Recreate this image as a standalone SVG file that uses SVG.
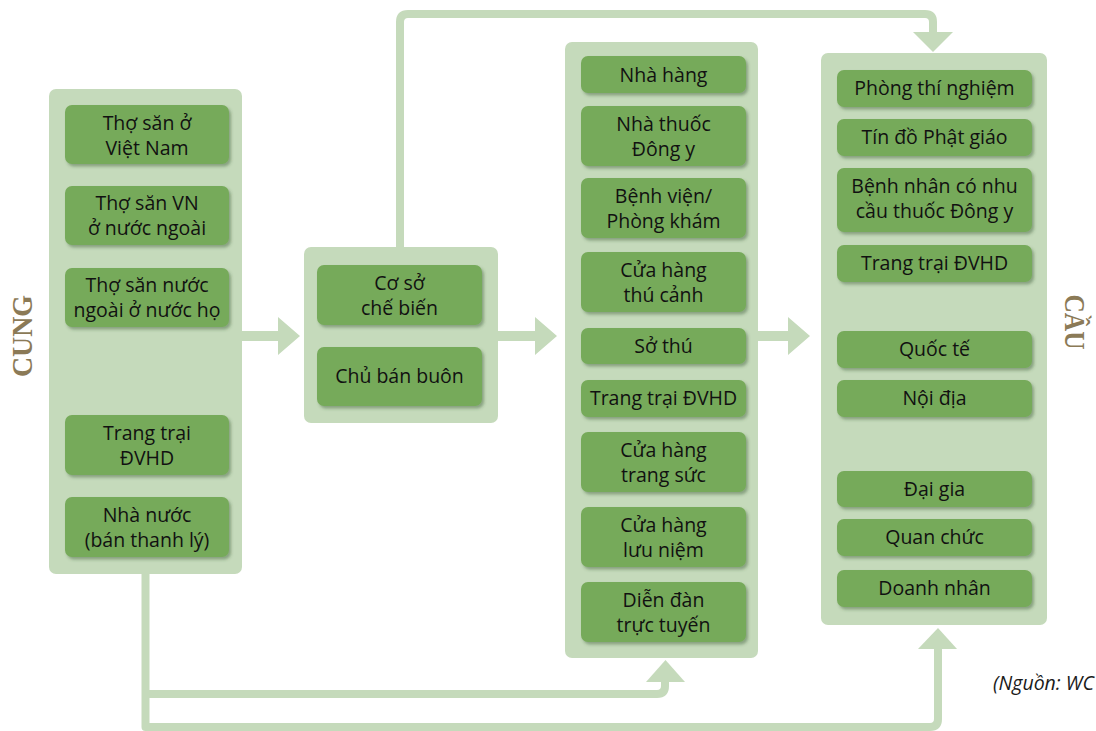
<svg xmlns="http://www.w3.org/2000/svg" width="1096" height="731" viewBox="0 0 1096 731">
<defs>
<filter id="sh" x="-10%" y="-20%" width="130%" height="150%">
<feDropShadow dx="2" dy="2.5" stdDeviation="1.8" flood-color="#3d5a30" flood-opacity="0.45"/>
</filter>
</defs>
<style>
.panel{fill:#c5dabb}
.node{fill:#76aa5a;filter:url(#sh)}
.t{font-family:"Open Sans","Noto Sans",sans-serif;font-size:19.5px;fill:#111111;text-anchor:middle}
.side{font-family:"Liberation Serif",serif;font-weight:bold;font-size:30px;fill:#8b7a57;text-anchor:middle}
.line{fill:none;stroke:#c5dabb;stroke-width:8;stroke-linejoin:round}
.ah{fill:#c5dabb}
.src{font-family:"Open Sans","Noto Sans",sans-serif;font-style:italic;font-size:19.5px;fill:#1a1a1a}
</style>
<rect width="1096" height="731" fill="#ffffff"/>

<g id="connectors">
<path class="line" d="M145.5,574 V727 H930 Q938,727 938,719 V645"/>
<polygon class="ah" points="918,649 957,649 938,628"/>
<path class="line" d="M145.5,694 H657 Q665,694 665,686 V678"/>
<polygon class="ah" points="646,682 685,682 665.5,660"/>
<path class="line" d="M400,247 V22 Q400,14 408,14 H925 Q933,14 933,22 V35"/>
<polygon class="ah" points="913,32 953,32 933,52"/>
<polygon class="ah" points="242,331 278,331 278,317 300,336 278,355 278,341 242,341"/>
<polygon class="ah" points="498,331 535,331 535,317 557,336 535,355 535,341 498,341"/>
<polygon class="ah" points="758,331 788,331 788,317 810,336 788,355 788,341 758,341"/>
</g>

<g id="label-cung"><text class="side" transform="translate(32,336) rotate(-90)" textLength="82" lengthAdjust="spacingAndGlyphs">CUNG</text></g>
<g id="label-cau"><text class="side" transform="translate(1065,322) rotate(90)" textLength="55" lengthAdjust="spacingAndGlyphs">CẦU</text></g>

<g id="panel-supply">
<rect class="panel" x="49" y="89" width="193" height="485" rx="7"/>
<g id="n-tho-san-vn"><rect class="node" x="65" y="105" width="164" height="59" rx="7"/><text class="t" x="147" y="130">Thợ săn ở</text><text class="t" x="147" y="155">Việt Nam</text></g>
<g id="n-tho-san-vn-nn"><rect class="node" x="65" y="186" width="164" height="59" rx="7"/><text class="t" x="147" y="210">Thợ săn VN</text><text class="t" x="147" y="235">ở nước ngoài</text></g>
<g id="n-tho-san-nn"><rect class="node" x="65" y="268" width="164" height="59" rx="7"/><text class="t" x="147" y="292">Thợ săn nước</text><text class="t" x="147" y="317">ngoài ở nước họ</text></g>
<g id="n-trang-trai-1"><rect class="node" x="65" y="415" width="164" height="60" rx="7"/><text class="t" x="147" y="440">Trang trại</text><text class="t" x="147" y="465">ĐVHD</text></g>
<g id="n-nha-nuoc"><rect class="node" x="65" y="497" width="164" height="60" rx="7"/><text class="t" x="147" y="522">Nhà nước</text><text class="t" x="147" y="547">(bán thanh lý)</text></g>
</g>

<g id="panel-middle">
<rect class="panel" x="304" y="247" width="194" height="176" rx="7"/>
<g id="n-co-so"><rect class="node" x="317" y="265" width="165" height="60" rx="7"/><text class="t" x="399.5" y="290">Cơ sở</text><text class="t" x="399.5" y="315">chế biến</text></g>
<g id="n-chu-ban-buon"><rect class="node" x="317" y="347" width="165" height="59" rx="7"/><text class="t" x="399.5" y="383">Chủ bán buôn</text></g>
</g>

<g id="panel-retail">
<rect class="panel" x="565" y="42" width="193" height="616" rx="7"/>
<g id="n-nha-hang"><rect class="node" x="581" y="56" width="165" height="37" rx="7"/><text class="t" x="663.5" y="82">Nhà hàng</text></g>
<g id="n-nha-thuoc"><rect class="node" x="581" y="106" width="165" height="60" rx="7"/><text class="t" x="663.5" y="131">Nhà thuốc</text><text class="t" x="663.5" y="156">Đông y</text></g>
<g id="n-benh-vien"><rect class="node" x="581" y="178" width="165" height="60" rx="7"/><text class="t" x="663.5" y="203">Bệnh viện/</text><text class="t" x="663.5" y="228">Phòng khám</text></g>
<g id="n-thu-canh"><rect class="node" x="581" y="252" width="165" height="60" rx="7"/><text class="t" x="663.5" y="277">Cửa hàng</text><text class="t" x="663.5" y="302">thú cảnh</text></g>
<g id="n-so-thu"><rect class="node" x="581" y="328" width="165" height="36" rx="7"/><text class="t" x="663.5" y="353">Sở thú</text></g>
<g id="n-trang-trai-2"><rect class="node" x="581" y="380" width="165" height="37" rx="7"/><text class="t" x="663.5" y="405">Trang trại ĐVHD</text></g>
<g id="n-trang-suc"><rect class="node" x="581" y="432" width="165" height="60" rx="7"/><text class="t" x="663.5" y="457">Cửa hàng</text><text class="t" x="663.5" y="482">trang sức</text></g>
<g id="n-luu-niem"><rect class="node" x="581" y="507" width="165" height="60" rx="7"/><text class="t" x="663.5" y="532">Cửa hàng</text><text class="t" x="663.5" y="557">lưu niệm</text></g>
<g id="n-dien-dan"><rect class="node" x="581" y="582" width="165" height="60" rx="7"/><text class="t" x="663.5" y="607">Diễn đàn</text><text class="t" x="663.5" y="632">trực tuyến</text></g>
</g>

<g id="panel-demand">
<rect class="panel" x="821" y="53" width="226" height="572" rx="7"/>
<g id="n-phong-tn"><rect class="node" x="837" y="70" width="195" height="37" rx="7"/><text class="t" x="934.5" y="95">Phòng thí nghiệm</text></g>
<g id="n-phat-giao"><rect class="node" x="837" y="119" width="195" height="37" rx="7"/><text class="t" x="934.5" y="144">Tín đồ Phật giáo</text></g>
<g id="n-benh-nhan"><rect class="node" x="837" y="168" width="195" height="64" rx="7"/><text class="t" x="934.5" y="193">Bệnh nhân có nhu</text><text class="t" x="934.5" y="218">cầu thuốc Đông y</text></g>
<g id="n-trang-trai-3"><rect class="node" x="837" y="245" width="195" height="37" rx="7"/><text class="t" x="934.5" y="270">Trang trại ĐVHD</text></g>
<g id="n-quoc-te"><rect class="node" x="837" y="331" width="195" height="37" rx="7"/><text class="t" x="934.5" y="356">Quốc tế</text></g>
<g id="n-noi-dia"><rect class="node" x="837" y="380" width="195" height="37" rx="7"/><text class="t" x="934.5" y="405">Nội địa</text></g>
<g id="n-dai-gia"><rect class="node" x="837" y="471" width="195" height="36" rx="7"/><text class="t" x="934.5" y="496">Đại gia</text></g>
<g id="n-quan-chuc"><rect class="node" x="837" y="519" width="195" height="37" rx="7"/><text class="t" x="934.5" y="544">Quan chức</text></g>
<g id="n-doanh-nhan"><rect class="node" x="837" y="570" width="195" height="37" rx="7"/><text class="t" x="934.5" y="595">Doanh nhân</text></g>
</g>

<text class="src" x="993" y="690">(Nguồn: WC</text>
</svg>
